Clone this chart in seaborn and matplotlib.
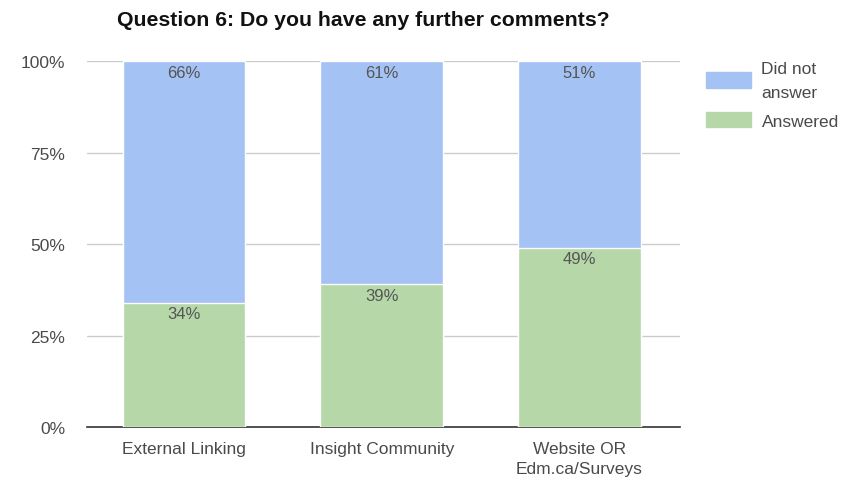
import matplotlib
matplotlib.use("Agg")
import matplotlib.pyplot as plt
import seaborn as sns
import pandas as pd
from matplotlib.ticker import FuncFormatter
from matplotlib.patches import Patch

# Data
sources = ['External Linking', 'Insight Community', 'Website OR\nEdm.ca/Surveys']
answered = [34, 39, 49]
did_not_answer = [66, 61, 51]

blue = '#a4c2f4'
green = '#b6d7a8'

df = pd.DataFrame({'Source': sources, 'Answered': answered, 'Did not answer': did_not_answer})
df['Total'] = df['Answered'] + df['Did not answer']

sns.set_style("white")
plt.rcParams['font.family'] = ['Liberation Sans', 'DejaVu Sans']

fig = plt.figure(figsize=(8.47, 4.85), dpi=100)
ax = fig.add_axes([0.103, 0.1175, 0.700, 0.7545])

# stacked: full height in blue, answered on top in green
sns.barplot(data=df, x='Source', y='Total', color=blue, width=0.62, saturation=1, ax=ax, zorder=2)
sns.barplot(data=df, x='Source', y='Answered', color=green, width=0.62, saturation=1, ax=ax, zorder=3)

for i, (a, d) in enumerate(zip(answered, did_not_answer)):
    ax.text(i, a + d - 1.0, f'{d}%', ha='center', va='top', fontsize=12, color='#555555', zorder=4)
    ax.text(i, a - 1.0, f'{a}%', ha='center', va='top', fontsize=12, color='#555555', zorder=4)

ax.set_ylim(0, 100)
ax.set_xlim(-0.49, 2.51)
ax.set_yticks([0, 25, 50, 75, 100])
ax.yaxis.set_major_formatter(FuncFormatter(lambda v, p: f'{int(v)}%'))
ax.grid(axis='y', color='#cccccc', linewidth=1, zorder=0)
ax.set_axisbelow(True)
for s in ['top', 'right', 'left']:
    ax.spines[s].set_visible(False)
ax.spines['bottom'].set_color('#333333')
ax.spines['bottom'].set_linewidth(1.2)
ax.tick_params(axis='both', length=0, labelsize=12.5, labelcolor='#4a4a4a')
ax.tick_params(axis='y', pad=16)
ax.tick_params(axis='x', pad=10)
for t in ax.get_xticklabels():
    t.set_linespacing(1.45)
ax.set_xlabel('')
ax.set_ylabel('')

fig.text(0.138, 0.957, 'Question 6: Do you have any further comments?', fontsize=15.3,
         fontweight='bold', color='#111111', va='center', ha='left')

handles = [Patch(color=blue, label='Did not\nanswer'), Patch(color=green, label='Answered')]
leg = fig.legend(handles=handles, loc='upper left', bbox_to_anchor=(0.815, 0.905), frameon=False,
                 fontsize=12.5, handlelength=2.6, handleheight=1.0, labelspacing=0.7, handletextpad=0.6)
for t in leg.get_texts():
    t.set_color('#4a4a4a')
    t.set_linespacing(1.75)

fig.savefig('out.png', dpi=100)
